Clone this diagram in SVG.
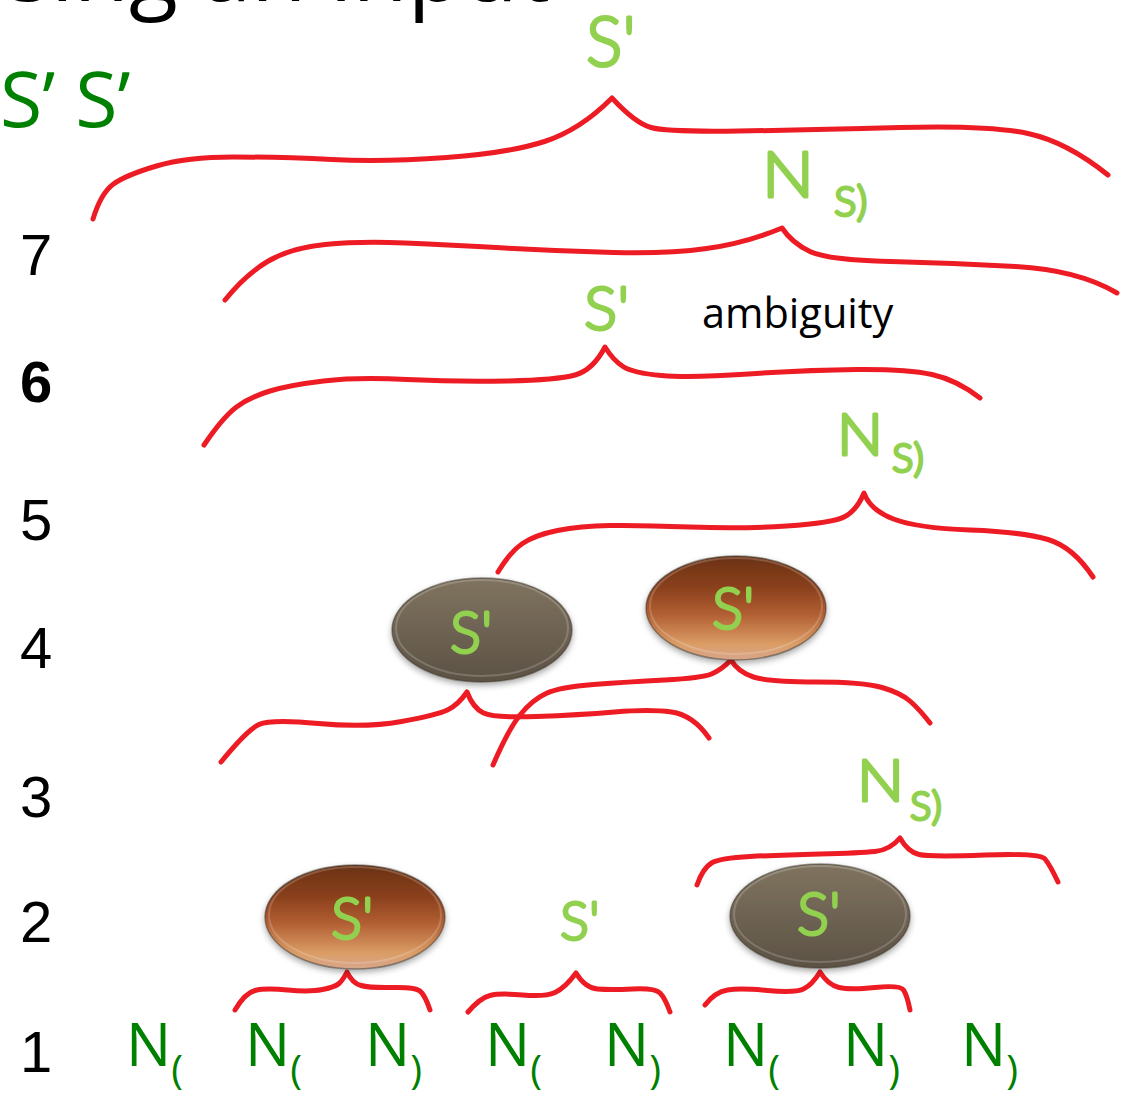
<svg xmlns="http://www.w3.org/2000/svg" width="1121" height="1115" viewBox="0 0 1121 1115">
<defs>
<linearGradient id="brown" x1="0" y1="0" x2="0" y2="1">
<stop offset="0" stop-color="#6a3214"/>
<stop offset="0.3" stop-color="#8a401c"/>
<stop offset="0.55" stop-color="#b05d31"/>
<stop offset="0.85" stop-color="#db9d66"/>
<stop offset="1" stop-color="#d7a68c"/>
</linearGradient>
<linearGradient id="gray" x1="0" y1="0" x2="0" y2="1">
<stop offset="0" stop-color="#80745f"/>
<stop offset="0.5" stop-color="#6e6353"/>
<stop offset="1" stop-color="#5c5244"/>
</linearGradient>
<filter id="sh" x="-20%" y="-20%" width="140%" height="150%">
<feDropShadow dx="0" dy="3" stdDeviation="3" flood-color="#000" flood-opacity="0.35"/>
</filter>
</defs>
<style>
.brace{fill:none;stroke:#ed1c24;stroke-width:5;stroke-linecap:round;stroke-linejoin:round}
.num{font-family:"Liberation Sans",Arial,sans-serif;font-size:58px;fill:#000}
.nl{font-family:"Open Sans","Liberation Sans",sans-serif;font-size:60px;fill:#008000}
.sub{font-family:"Open Sans","Liberation Sans",sans-serif;font-size:40px;fill:#008000}
.hw{font-family:Lato,"Open Sans",sans-serif;font-weight:300;fill:#92d050;stroke:#92d050;stroke-width:3;stroke-linejoin:round}
.ell{filter:url(#sh);stroke:#3e362c;stroke-opacity:0.5;stroke-width:1.5}
.rim{fill:none;stroke:#fff;stroke-opacity:0.18;stroke-width:2}
</style>
<rect width="1121" height="1115" fill="#fff"/>
<text id="title" x="550" y="1" text-anchor="end" font-family="Open Sans, Liberation Sans, sans-serif" font-size="90" fill="#000">sing an input</text>
<text id="legend" x="0" y="127" font-family="Open Sans, Liberation Sans, sans-serif" font-size="77" fill="#008000">S’ S’</text>
<g id="rows">
<text class="num" x="20" y="275">7</text>
<text class="num" x="20" y="402" font-weight="bold">6</text>
<text class="num" x="20" y="540">5</text>
<text class="num" x="20" y="668">4</text>
<text class="num" x="20" y="817">3</text>
<text class="num" x="20" y="942">2</text>
<text class="num" x="20" y="1072">1</text>
</g>
<g id="connectors">
<path class="brace" d="M93,219 Q101,193 113.5,184 Q126,175 156.5,166 Q187,157 233.5,157 Q280,157 332,159.5 Q384,162 446.5,157.5 Q509,153 544.5,141.5 Q580,130 612,98 Q635,123 651,127.5 Q667,132 738.5,131 Q810,130 899.5,127.5 Q989,125 1028,133.5 Q1067,142 1108,175"/>
<path class="brace" d="M225,300 Q245,275 267.5,261.5 Q290,248 325,244.5 Q360,241 405,243 Q450,245 505,248 Q560,251 613.5,252.5 Q667,254 706.5,248.5 Q746,243 782,228 Q792,243 810,251.5 Q828,260 890.5,261.5 Q953,263 1015.5,266.5 Q1078,270 1117,293"/>
<path class="brace" d="M204,445 Q223,417 236.5,407 Q250,397 270,391 Q290,385 323.5,381 Q357,377 407,379.5 Q457,382 507,381 Q557,380 575,375 Q593,370 605,347 Q613,360 623,366.5 Q633,373 661.5,375.5 Q690,378 748.5,374 Q807,370 857,369.5 Q907,369 932,374.5 Q957,380 980,398"/>
<path class="brace" d="M498,572 Q510,552 522.5,543.5 Q535,535 557.5,530.5 Q580,526 610,525.5 Q640,525 690,527 Q740,529 786.5,526 Q833,523 845,516.5 Q857,510 864,493 Q870,510 893.5,519 Q917,528 970,530 Q1023,532 1048,539.5 Q1073,547 1093,577"/>
<path class="brace" d="M493,765 Q508,730 520,715 Q532,700 546,693.5 Q560,687 593.5,684.5 Q627,682 664.5,680 Q702,678 711.5,674 Q721,670 731,660 Q738,672 753.5,677 Q769,682 816,682 Q863,682 882,687.5 Q901,693 910.5,701.5 Q920,710 930,723"/>
<path class="brace" d="M221,762 Q247,730 259,724.5 Q271,719 318.5,723.5 Q366,728 401.5,721.5 Q437,715 447.5,710 Q458,705 467,692 Q473,708 483.5,713 Q494,718 536.5,716.5 Q579,715 614.5,712 Q650,709 671.5,712 Q693,715 709,738"/>
<path class="brace" d="M697,885 Q703,868 711.5,863 Q720,858 750,856.5 Q780,855 820,854 Q860,853 875,851.5 Q890,850 900,838 Q908,852 919,854.5 Q930,857 985,855 Q1040,853 1045,859 Q1050,865 1058,882"/>
<path class="brace" d="M235,1010 Q245,993 255,990.5 Q265,988 287.5,990 Q310,992 322.5,989.5 Q335,987 339,983.5 Q343,980 347,972 Q352,983 361,985.5 Q370,988 392.5,987.5 Q415,987 420,991 Q425,995 430,1010"/>
<path class="brace" d="M468,1012 Q480,998 490,995.5 Q500,993 522.5,995 Q545,997 555,992.5 Q565,988 576,973 Q585,988 597.5,989 Q610,990 632.5,989 Q655,988 660,993 Q665,998 670,1012"/>
<path class="brace" d="M705,1005 Q715,992 727.5,990 Q740,988 767.5,990.5 Q795,993 803.5,989 Q812,985 820,972 Q828,985 839,987.5 Q850,990 875,987.5 Q900,985 903.5,990 Q907,995 910,1010"/>
</g>
<g id="node-s-top"><text class="hw" x="586" y="66" font-size="68">S'</text></g>
<g id="node-ns-7"><text class="hw" x="762" y="197" font-size="64" textLength="52" lengthAdjust="spacingAndGlyphs">N</text><text class="hw" x="834" y="216" font-size="42">S)</text></g>
<g id="node-s-6"><text class="hw" x="584" y="330" font-size="62">S'</text></g>
<text id="ambiguity" x="702" y="328" font-family="Open Sans, Liberation Sans, sans-serif" font-size="41.5" fill="#000">ambiguity</text>
<g id="node-ns-5"><text class="hw" x="837" y="455" font-size="58" textLength="46" lengthAdjust="spacingAndGlyphs">N</text><text class="hw" x="892" y="472" font-size="40">S)</text></g>
<g id="node-ell-gray-4"><ellipse class="ell" cx="482" cy="630" rx="90" ry="52" fill="url(#gray)"/><ellipse class="rim" cx="482" cy="628" rx="86" ry="48"/><text class="hw" x="450" y="653" font-size="58">S'</text></g>
<g id="node-ell-brown-4"><ellipse class="ell" cx="736" cy="608" rx="90" ry="52" fill="url(#brown)"/><ellipse class="rim" cx="736" cy="606" rx="86" ry="48"/><text class="hw" x="712" y="629" font-size="58">S'</text></g>
<g id="node-ns-3"><text class="hw" x="857" y="801" font-size="58" textLength="47" lengthAdjust="spacingAndGlyphs">N</text><text class="hw" x="910" y="820" font-size="40">S)</text></g>
<g id="node-ell-brown-2"><ellipse class="ell" cx="355" cy="917" rx="90" ry="52" fill="url(#brown)"/><ellipse class="rim" cx="355" cy="915" rx="86" ry="48"/><text class="hw" x="331" y="939" font-size="58">S'</text></g>
<g id="node-s-2"><text class="hw" x="560" y="940" font-size="54">S'</text></g>
<g id="node-ell-gray-2"><ellipse class="ell" cx="820" cy="916" rx="90" ry="52" fill="url(#gray)"/><ellipse class="rim" cx="820" cy="914" rx="86" ry="48"/><text class="hw" x="797" y="935" font-size="60">S'</text></g>
<g id="leaves">
<text class="nl" x="126" y="1066">N<tspan class="sub" dy="18">(</tspan></text>
<text class="nl" x="245" y="1066">N<tspan class="sub" dy="18">(</tspan></text>
<text class="nl" x="365" y="1066">N<tspan class="sub" dy="18">)</tspan></text>
<text class="nl" x="485" y="1066">N<tspan class="sub" dy="18">(</tspan></text>
<text class="nl" x="604" y="1066">N<tspan class="sub" dy="18">)</tspan></text>
<text class="nl" x="723" y="1066">N<tspan class="sub" dy="18">(</tspan></text>
<text class="nl" x="843" y="1066">N<tspan class="sub" dy="18">)</tspan></text>
<text class="nl" x="961" y="1066">N<tspan class="sub" dy="18">)</tspan></text>
</g>
</svg>
